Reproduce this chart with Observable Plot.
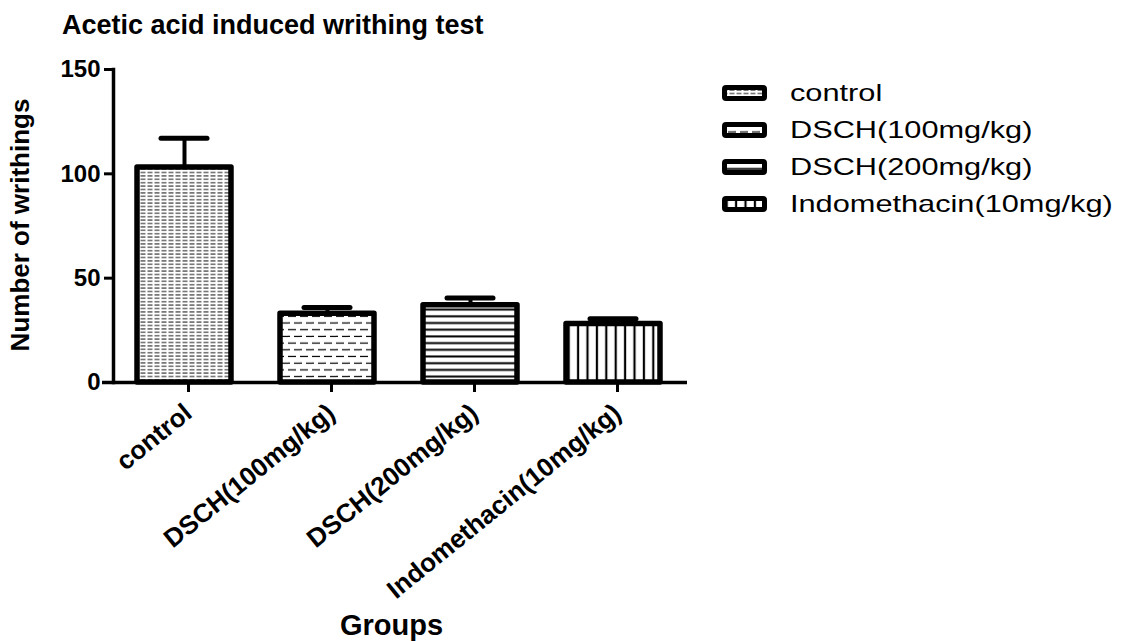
<!DOCTYPE html>
<html>
<head>
<meta charset="utf-8">
<script src="https://cdn.jsdelivr.net/npm/d3@7"></script>
<script src="https://cdn.jsdelivr.net/npm/@observablehq/plot@0.6"></script>
<style>
  body { margin: 0; background: #fff; font-family: "Liberation Sans", Arial, sans-serif; color: #000; }
  #wrap { position: relative; width: 1122px; height: 641px; overflow: hidden; background: #fff; }
  #title { height: 45px; line-height: 50px; padding-left: 62px; font-weight: bold; font-size: 27px; white-space: nowrap; }
  #ytitle { position: absolute; left: -130px; top: 210px; width: 300px; height: 30px; line-height: 30px; text-align: center;
            font-weight: bold; font-size: 26px; white-space: nowrap; transform: rotate(-90deg); transform-origin: 150px 15px; }
  #legend { position: absolute; left: 722px; top: 74px; }
  .row { display: flex; align-items: center; height: 37px; }
  .row svg { flex: none; }
  .row span { font-size: 24px; display: inline-block; transform: scaleX(1.28); transform-origin: left center; margin-left: 23px; white-space: nowrap; }
  #defs { position: absolute; width: 0; height: 0; }
</style>
</head>
<body>
<div id="wrap">
  <svg id="defs" width="0" height="0">
    <defs>
      <pattern id="pat-control" patternUnits="userSpaceOnUse" width="7" height="3.4">
        <rect width="7" height="3.4" fill="#fff"/>
        <line x1="0.5" y1="1.7" x2="5.5" y2="1.7" stroke="#000" stroke-width="0.9"/>
      </pattern>
      <pattern id="pat-d100" patternUnits="userSpaceOnUse" width="12" height="13.4">
        <rect width="12" height="13.4" fill="#fff"/>
        <line x1="0" y1="3.3" x2="8" y2="3.3" stroke="#000" stroke-width="1.2"/>
        <line x1="6" y1="10" x2="12" y2="10" stroke="#000" stroke-width="1.2"/>
        <line x1="0" y1="10" x2="2" y2="10" stroke="#000" stroke-width="1.2"/>
      </pattern>
      <pattern id="pat-d200" patternUnits="userSpaceOnUse" width="10" height="6.7">
        <rect width="10" height="6.7" fill="#fff"/>
        <line x1="0" y1="3.3" x2="10" y2="3.3" stroke="#000" stroke-width="2"/>
      </pattern>
      <pattern id="pat-indo" patternUnits="userSpaceOnUse" width="9.4" height="10">
        <rect width="9.4" height="10" fill="#fff"/>
        <line x1="4.7" y1="0" x2="4.7" y2="10" stroke="#000" stroke-width="2.2"/>
      </pattern>
    </defs>
  </svg>
  <div id="title">Acetic acid induced writhing test</div>
  <div id="chart"></div>
  <div id="ytitle">Number of writhings</div>
  <div id="legend"></div>
</div>
<script>
// ---- data ----
const groups = ["control", "DSCH(100mg/kg)", "DSCH(200mg/kg)", "Indomethacin(10mg/kg)"];
const means = [103, 33, 37, 28];
const sems = [14, 3, 3.5, 2.5];
const yTicks = [0, 50, 100, 150];
const yDomain = [0, 150];

// ---- styles (patterns per group) ----
const patternUrls = ["url(#pat-control)", "url(#pat-d100)", "url(#pat-d200)", "url(#pat-indo)"];

const data = groups.map((g, i) => ({group: g, mean: means[i], sem: sems[i]}));

const chart = Plot.plot({
  width: 1122,
  height: 596,
  marginLeft: 113,
  marginRight: 437,
  marginTop: 24,
  marginBottom: 259,
  style: {fontFamily: "'Liberation Sans', Arial, sans-serif", color: "#000", background: "#fff", overflow: "visible"},
  x: {domain: groups, paddingInner: 0.34, paddingOuter: 0.17, label: null},
  y: {domain: yDomain, label: null},
  color: {type: "ordinal", domain: groups, range: patternUrls},
  marks: [
    Plot.ruleX(data, {x: "group", y1: "mean", y2: d => d.mean + d.sem, stroke: "#000", strokeWidth: 4}),
    Plot.tickY(data, {x: "group", y: d => d.mean + d.sem, stroke: "#000", strokeWidth: 5, strokeLinecap: "round", inset: 24}),
    Plot.barY(data, {x: "group", y: "mean", fill: "group", stroke: "#000", strokeWidth: 5.5, strokeLinejoin: "round"}),
    Plot.frame({anchor: "left", stroke: "#000", strokeWidth: 3.5}),
    Plot.ruleY([0], {stroke: "#000", strokeWidth: 3.5, insetLeft: -11, insetRight: -2}),
    Plot.axisY({ticks: yTicks, tickSize: 9, tickPadding: 4, stroke: "#000", strokeWidth: 3, fontSize: 24, fontWeight: "bold", label: null}),
    Plot.axisX({tickSize: 10, tickPadding: 17, dx: 4, tickRotate: -39, stroke: "#000", strokeWidth: 3, fontSize: 26, fontWeight: "bold", label: null}),
    Plot.text(["Groups"], {frameAnchor: "bottom", dx: -8, dy: 252, lineAnchor: "bottom", fontSize: 29, fontWeight: "bold", fill: "#000"})
  ]
});
document.getElementById("chart").appendChild(chart);

// ---- legend ----
const legend = document.getElementById("legend");
groups.forEach((g, i) => {
  const row = document.createElement("div");
  row.className = "row";
  row.innerHTML = `<svg width="45" height="16"><rect x="2.5" y="2.5" width="40" height="11" rx="1.5" fill="${patternUrls[i]}" stroke="#000" stroke-width="5"/></svg><span>${g}</span>`;
  legend.appendChild(row);
});
</script>
</body>
</html>
